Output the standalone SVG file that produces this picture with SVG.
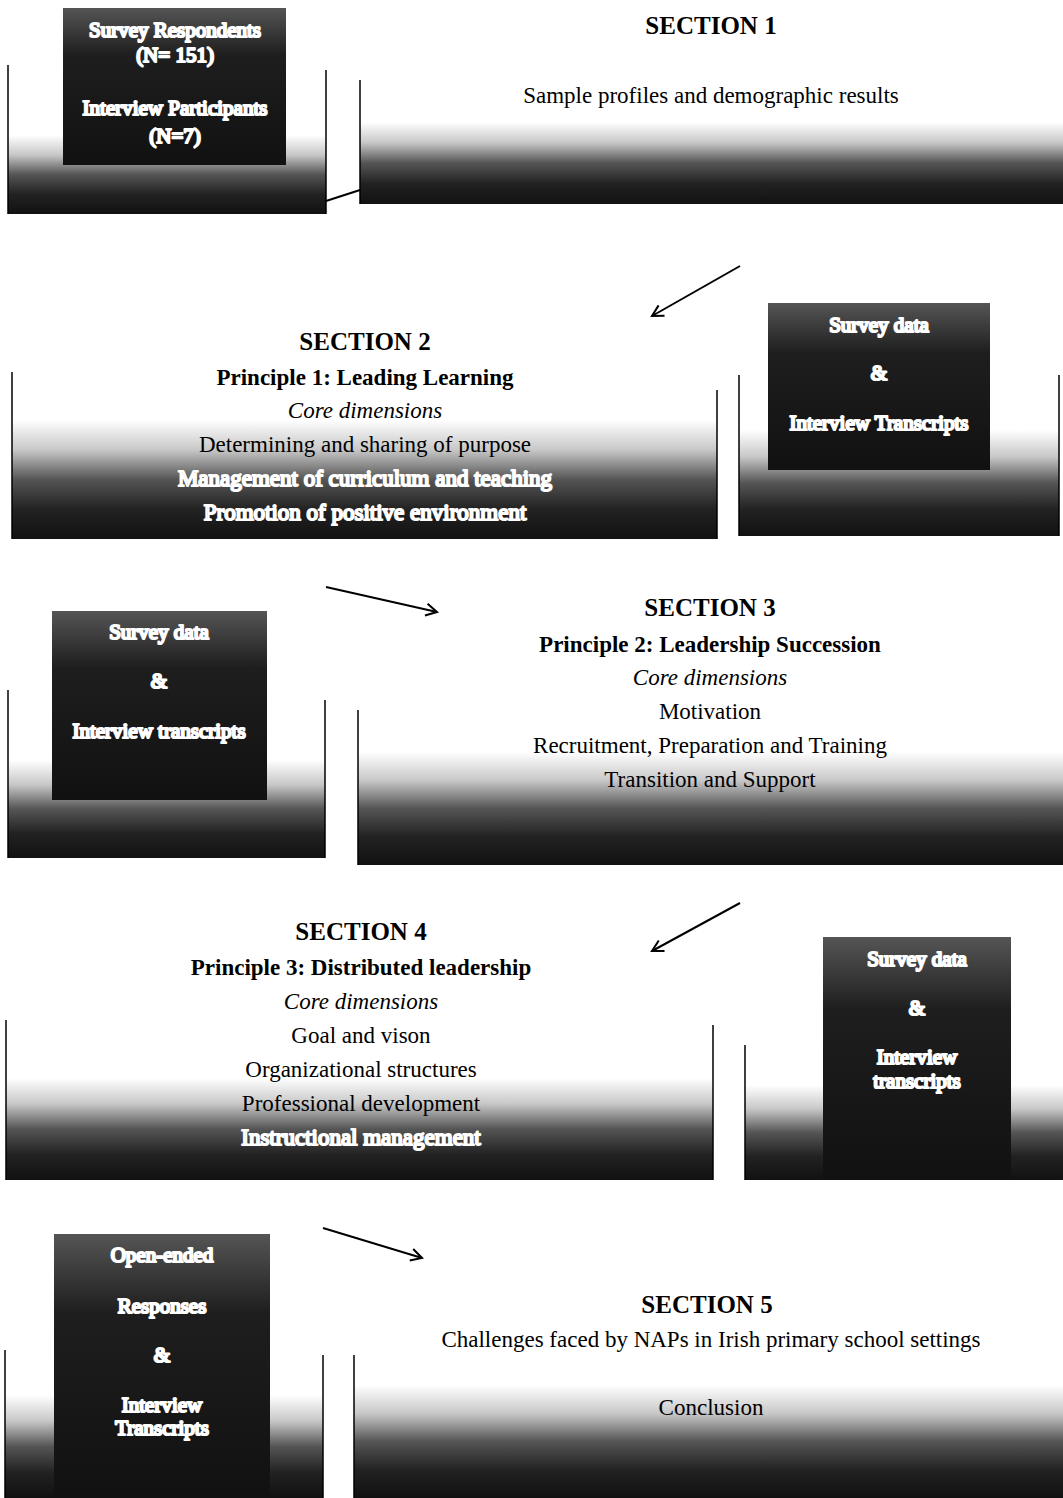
<svg xmlns="http://www.w3.org/2000/svg" width="1063" height="1498" viewBox="0 0 1063 1498">
<style>
text{font-family:"Liberation Serif","Times New Roman",serif;text-anchor:middle;fill:#000}
.h{font-size:25px;font-weight:bold}
.p{font-size:23px;font-weight:bold}
.i{font-size:23px;font-style:italic}
.t{font-size:23px}
.tw{font-size:23px;fill:#111;stroke:#fff;stroke-width:2;stroke-linejoin:round}
.w{font-size:21px;fill:#111;stroke:#fff;stroke-width:2.2;stroke-linejoin:round}
.edge{stroke:#000;stroke-width:1.5}
.fade{fill:url(#fade)}
.inner{fill:url(#dark)}
.conn{stroke:#000;stroke-width:2;fill:none}
</style>
<defs>
<linearGradient id="fade" x1="0" y1="0" x2="0" y2="1">
<stop offset="0" stop-color="#fff"/>
<stop offset="0.25" stop-color="#c8c8c8"/>
<stop offset="0.5" stop-color="#555"/>
<stop offset="0.75" stop-color="#222"/>
<stop offset="1" stop-color="#111"/>
</linearGradient>
<linearGradient id="dark" x1="0" y1="0" x2="0" y2="1">
<stop offset="0" stop-color="#555"/>
<stop offset="0.3" stop-color="#1e1e1e"/>
<stop offset="1" stop-color="#111"/>
</linearGradient>
<marker id="arr" markerWidth="14" markerHeight="14" refX="12" refY="7" orient="auto" markerUnits="userSpaceOnUse">
<path d="M1,1 L12,7 L1,13" fill="none" stroke="#000" stroke-width="2"/>
</marker>
</defs>

<g id="connectors">
<line class="conn" x1="326" y1="201" x2="360" y2="190"/>
<line class="conn" x1="740" y1="266" x2="652" y2="316" marker-end="url(#arr)"/>
<line class="conn" x1="326" y1="587" x2="437" y2="612" marker-end="url(#arr)"/>
<line class="conn" x1="740" y1="903" x2="652" y2="951" marker-end="url(#arr)"/>
<line class="conn" x1="323" y1="1228" x2="422" y2="1258" marker-end="url(#arr)"/>
</g>

<g id="samples">
<rect class="fade" x="8" y="135" width="318" height="79"/>
<line class="edge" x1="8" y1="65" x2="8" y2="214"/>
<line class="edge" x1="326" y1="70" x2="326" y2="214"/>
<rect class="inner" x="63" y="8" width="223" height="157"/>
<text class="w" x="175" y="37">Survey Respondents</text>
<text class="w" x="175" y="62">(N= 151)</text>
<text class="w" x="175" y="115">Interview Participants</text>
<text class="w" x="175" y="143">(N=7)</text>
</g>

<g id="section1">
<rect class="fade" x="360" y="122" width="703" height="82"/>
<line class="edge" x1="360" y1="80" x2="360" y2="204"/>
<text class="h" x="711" y="34">SECTION 1</text>
<text class="t" x="711" y="103">Sample profiles and demographic results</text>
</g>

<g id="section2">
<rect class="fade" x="12" y="420" width="705" height="119"/>
<line class="edge" x1="12" y1="372" x2="12" y2="539"/>
<line class="edge" x1="717" y1="390" x2="717" y2="539"/>
<text class="h" x="365" y="350">SECTION 2</text>
<text class="p" x="365" y="385">Principle 1: Leading Learning</text>
<text class="i" x="365" y="418">Core dimensions</text>
<text class="t" x="365" y="452">Determining and sharing of purpose</text>
<text class="tw" x="365" y="486">Management of curriculum and teaching</text>
<text class="tw" x="365" y="520">Promotion of positive environment</text>
</g>

<g id="data2">
<rect class="fade" x="739" y="430" width="320" height="106"/>
<line class="edge" x1="739" y1="375" x2="739" y2="536"/>
<line class="edge" x1="1059" y1="375" x2="1059" y2="536"/>
<rect class="inner" x="768" y="303" width="222" height="167"/>
<text class="w" x="879" y="332">Survey data</text>
<text class="w" x="879" y="380">&amp;</text>
<text class="w" x="879" y="430">Interview Transcripts</text>
</g>

<g id="data3">
<rect class="fade" x="8" y="760" width="317" height="98"/>
<line class="edge" x1="8" y1="690" x2="8" y2="858"/>
<line class="edge" x1="325" y1="700" x2="325" y2="858"/>
<rect class="inner" x="52" y="611" width="215" height="189"/>
<text class="w" x="159" y="639">Survey data</text>
<text class="w" x="159" y="688">&amp;</text>
<text class="w" x="159" y="738">Interview transcripts</text>
</g>

<g id="section3">
<rect class="fade" x="358" y="752" width="705" height="113"/>
<line class="edge" x1="358" y1="710" x2="358" y2="865"/>
<text class="h" x="710" y="616">SECTION 3</text>
<text class="p" x="710" y="652">Principle 2: Leadership Succession</text>
<text class="i" x="710" y="685">Core dimensions</text>
<text class="t" x="710" y="719">Motivation</text>
<text class="t" x="710" y="753">Recruitment, Preparation and Training</text>
<text class="t" x="710" y="787">Transition and Support</text>
</g>

<g id="section4">
<rect class="fade" x="6" y="1078" width="707" height="102"/>
<line class="edge" x1="6" y1="1020" x2="6" y2="1180"/>
<line class="edge" x1="713" y1="1025" x2="713" y2="1180"/>
<text class="h" x="361" y="940">SECTION 4</text>
<text class="p" x="361" y="975">Principle 3: Distributed leadership</text>
<text class="i" x="361" y="1009">Core dimensions</text>
<text class="t" x="361" y="1043">Goal and vison</text>
<text class="t" x="361" y="1077">Organizational structures</text>
<text class="t" x="361" y="1111">Professional development</text>
<text class="tw" x="361" y="1145">Instructional management</text>
</g>

<g id="data4">
<rect class="fade" x="745" y="1085" width="318" height="95"/>
<line class="edge" x1="745" y1="1045" x2="745" y2="1180"/>
<rect class="inner" x="823" y="937" width="188" height="243"/>
<text class="w" x="917" y="966">Survey data</text>
<text class="w" x="917" y="1015">&amp;</text>
<text class="w" x="917" y="1064">Interview</text>
<text class="w" x="917" y="1088">transcripts</text>
</g>

<g id="data5">
<rect class="fade" x="5" y="1395" width="318" height="103"/>
<line class="edge" x1="5" y1="1350" x2="5" y2="1498"/>
<line class="edge" x1="323" y1="1355" x2="323" y2="1498"/>
<rect class="inner" x="54" y="1234" width="216" height="264"/>
<text class="w" x="162" y="1262">Open-ended</text>
<text class="w" x="162" y="1313">Responses</text>
<text class="w" x="162" y="1362">&amp;</text>
<text class="w" x="162" y="1412">Interview</text>
<text class="w" x="162" y="1435">Transcripts</text>
</g>

<g id="section5">
<rect class="fade" x="354" y="1385" width="709" height="113"/>
<line class="edge" x1="354" y1="1355" x2="354" y2="1498"/>
<text class="h" x="707" y="1313">SECTION 5</text>
<text class="t" x="711" y="1347">Challenges faced by NAPs in Irish primary school settings</text>
<text class="t" x="711" y="1415">Conclusion</text>
</g>
</svg>
